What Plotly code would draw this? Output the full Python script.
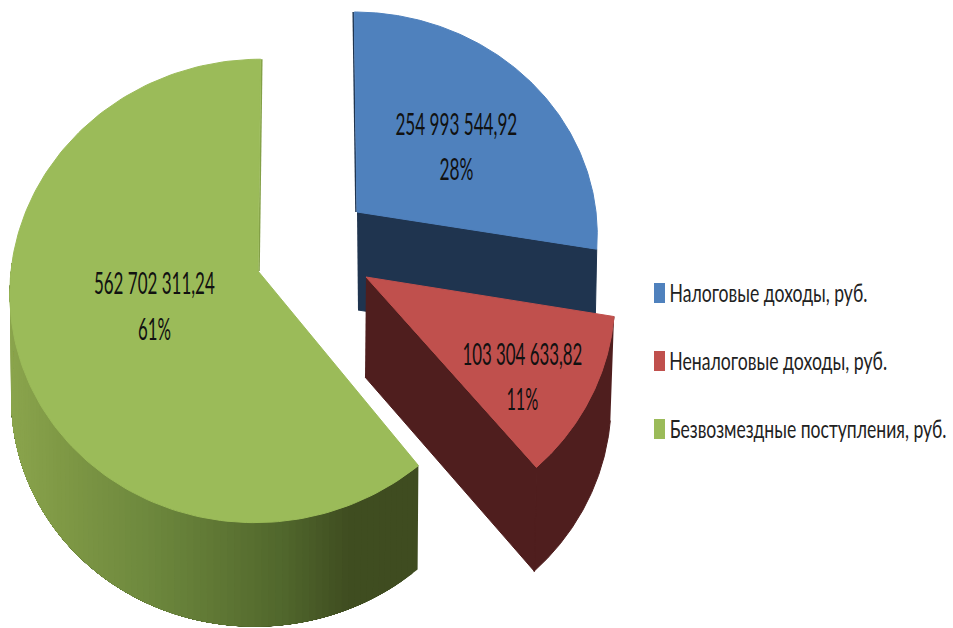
import json
import numpy as np
import plotly.graph_objects as go

# ---- data ----
categories = ["Налоговые доходы, руб.", "Неналоговые доходы, руб.", "Безвозмездные поступления, руб."]
values = [254993544.92, 103304633.82, 562702311.24]

# ---- styling ----
top_colors = ["#4f81bd", "#c0504d", "#9bbb59"]
wall_colors = ["#1f344f", "#4f1e1e", "#3f4c20"]
FONT = "Lato"

# view of each exploded slice: apex, radii, perspective, depth
view = [
    dict(ax=357, ay=212, A=239, B=218, p=0.09, skew=-3, depth=98, lead=0),
    dict(ax=366, ay=277, A=248, B=232, p=0.086, skew=0, depth=104, lead=0),
    dict(ax=258, ay=271, A=247, B=230, p=0.086, skew=3, depth=104, lead=2),
]
label_pos = [(456, 123, 168), (522, 353, 398), (154, 282, 328)]
legend_y = [293, 361, 429]
legend_text_y = [292, 360, 428]
legend_x_mid = [768, 778, 808]
legend_width = [198, 218, 277]
label_width = [122, 120, 121]
pct_width = [34, 32, 33]

shares = np.array(values) / sum(values)
edges = np.concatenate([[0], np.cumsum(shares)]) * 360


def rim(v, deg, dz=0, shrink=1.0):
    t = np.radians(deg)
    s = 1 / (1 + v["p"] * np.cos(t))
    x = v["ax"] + shrink * v["A"] * np.sin(t) * s + v["skew"] * np.cos(t) * s
    y = v["ay"] - v["B"] * np.cos(t) * s + dz
    return x, y


def poly(x, y, color, name=None, line=1):
    fig.add_trace(go.Scatter(
        x=x, y=y, mode="lines", fill="toself", fillcolor=color,
        line=dict(color=color, width=line), showlegend=False,
        name=name or "", hoverinfo="skip" if name is None else "name"))


def edge(v, deg, color, shift):
    x, y = rim(v, deg)
    fig.add_trace(go.Scatter(x=[v["ax"] + shift, x + shift], y=[v["ay"], y], mode="lines",
                             line=dict(color=color, width=1.6), showlegend=False, hoverinfo="skip"))


fig = go.Figure()


def angles(i, n=160):
    return np.linspace(edges[i] + view[i]["lead"], edges[i + 1], n)


def wall_shade(x):
    stops_x = [10, 60, 150, 220, 290, 350, 420]
    rgb = [[139, 165, 77], [128, 154, 70], [110, 137, 62], [96, 120, 53], [80, 102, 44], [64, 78, 33], [63, 76, 32]]
    return "rgb(%d,%d,%d)" % tuple(np.interp(x, stops_x, [c[k] for c in rgb]) for k in range(3))


def top_face(i):
    v = view[i]
    x, y = rim(v, angles(i))
    poly(np.r_[v["ax"], x, v["ax"]], np.r_[v["ay"], y, v["ay"]], top_colors[i], categories[i])


# green: outer wall as overlapping gradient bands (each runs to the far end, so no seams)
v = view[2]
a_end = 272
for lo in np.linspace(edges[2] + v["lead"], a_end, 90)[:-1]:
    seg = np.linspace(lo, a_end, 60)
    xt, yt = rim(v, seg)
    xb, yb = rim(v, seg[::-1], dz=v["depth"], shrink=0.995)
    poly(np.r_[xt, xb], np.r_[yt, yb], wall_shade(xt[0]), line=0)
edge(v, 360, "#83a047", 1)
top_face(2)

# blue: cut face, then top
v = view[0]
xe, ye = rim(v, edges[1])
poly([v["ax"], xe, xe - 2, v["ax"] + 1], [v["ay"], ye, ye + v["depth"], v["ay"] + v["depth"]], wall_colors[0])
edge(v, 0, wall_colors[0], -1)
top_face(0)

# red: cut face and outer wall, then top
v = view[1]
seg = angles(1)
xt, yt = rim(v, seg)
xb, yb = rim(v, seg[::-1], dz=v["depth"], shrink=0.985)
poly(np.r_[xt, xb], np.r_[yt, yb], wall_colors[1])
xe, ye = rim(v, edges[2])
poly([v["ax"], xe, xe - 2, v["ax"] - 1], [v["ay"], ye, ye + v["depth"], v["ay"] + v["depth"] - 4], wall_colors[1])
top_face(1)

annotations = []
shapes = []
fit_widths = {}


def money(val):
    whole, frac = f"{val:,.2f}".split(".")
    return whole.replace(",", " ") + "," + frac


for i, (lx, ly1, ly2) in enumerate(label_pos):
    amount, pct = money(values[i]), f"{shares[i] * 100:.0f}%"
    fit_widths[amount] = label_width[i]
    fit_widths[pct] = pct_width[i]
    fit_widths[categories[i]] = legend_width[i]
    annotations.append(dict(x=lx, y=ly1, text=amount, showarrow=False,
                            font=dict(family=FONT, size=31, color="#111111")))
    annotations.append(dict(x=lx, y=ly2, text=pct, showarrow=False,
                            font=dict(family=FONT, size=31, color="#111111")))
    shapes.append(dict(type="rect", x0=654, x1=665, y0=legend_y[i] - 10, y1=legend_y[i] + 10,
                       fillcolor=top_colors[i], line=dict(width=0)))
    annotations.append(dict(x=legend_x_mid[i], y=legend_text_y[i], text=categories[i], showarrow=False,
                            font=dict(family=FONT, size=25, color="#222222")))

fig.update_layout(
    width=953, height=628, margin=dict(l=0, r=0, t=0, b=0),
    paper_bgcolor="white", plot_bgcolor="white", showlegend=False,
    xaxis=dict(range=[0, 953], visible=False, fixedrange=True),
    yaxis=dict(range=[628, 0], visible=False, fixedrange=True),
    annotations=annotations, shapes=shapes,
)

# the reference's lettering is squeezed horizontally: scale each real text to its measured width
post = """
document.body.style.margin = '0';
document.documentElement.style.overflow = 'hidden';
var widths = %s;
document.querySelectorAll('g.annotation text').forEach(function (el) {
  var w = widths[el.textContent];
  if (!w) return;
  var k = w / el.getComputedTextLength();
  var cx = parseFloat(el.getAttribute('x')) || 0;
  el.setAttribute('transform', 'translate(' + (cx * (1 - k)) + ',0) scale(' + k + ',1)');
});
""" % json.dumps(fit_widths, ensure_ascii=False)

fig.write_html("out.html", config={"displayModeBar": False}, post_script=post)
